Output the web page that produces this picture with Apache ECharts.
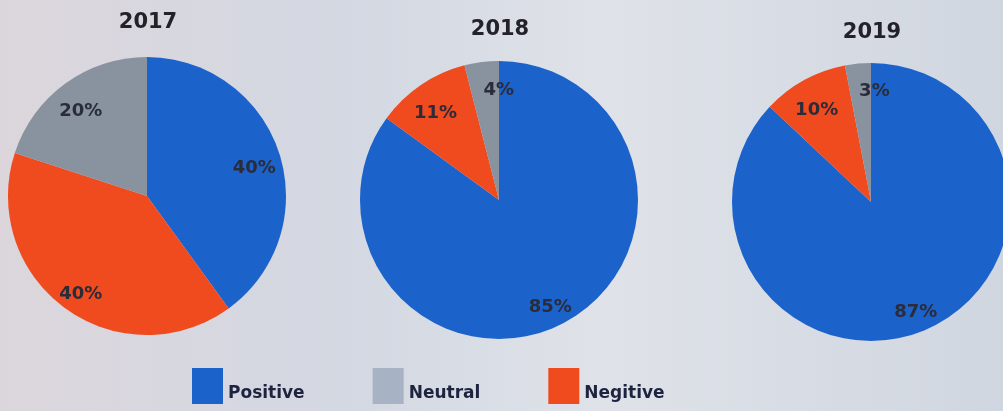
<!DOCTYPE html>
<html>
<head>
<meta charset="utf-8">
<title>Sentiment 2017-2019</title>
<script src="https://cdn.jsdelivr.net/npm/echarts@6/dist/echarts.min.js"></script>
<style>
  html, body { margin: 0; padding: 0; }
  #main { width: 1003px; height: 411px; }
</style>
</head>
<body>
<div id="main"></div>
<script>
// data
var years = ['2017', '2018', '2019']
var categories = ['Positive', 'Negitive', 'Neutral']   // clockwise from 12 o'clock
var legendOrder = ['Positive', 'Neutral', 'Negitive']
var positive = [40, 85, 87]
var negitive = [40, 11, 10]
var neutral = [20, 4, 3]

var colors = { Positive: '#1b63cb', Negitive: '#f04a1f', Neutral: '#89929f' }
var neutralLegend = '#a8b2c5'
var centers = [[147, 196], [499, 200], [871, 202]]
var radius = 139
var titleTops = [7, 14, 17]

var chart = echarts.init(document.getElementById('main'))

function yearData(i) {
    var vals = { Positive: positive[i], Negitive: negitive[i], Neutral: neutral[i] }
    return categories.map(function (c) {
        return { name: c, value: vals[c], itemStyle: { color: colors[c] } }
    })
}

var series = []
var titles = []
for (var i = 0; i < years.length; i++) {
    // the pie itself
    series.push({
        type: 'pie',
        center: centers[i],
        radius: [0, radius],
        startAngle: 90,
        clockwise: true,
        silent: true,
        label: { show: false },
        labelLine: { show: false },
        data: yearData(i)
    })
    titles.push({
        text: years[i],
        left: centers[i][0] - 4,
        top: titleTops[i],
        textAlign: 'center',
        textStyle: { fontFamily: 'DejaVu Sans', fontWeight: 'bold', fontSize: 21, color: '#222228' }
    })
}
// transparent rings so the percent labels sit out near the rim
for (var j = 0; j < years.length; j++) {
    series.push({
        type: 'pie',
        center: centers[j],
        radius: [radius * 0.58, radius],
        startAngle: 90,
        clockwise: true,
        silent: true,
        itemStyle: { color: 'rgba(0,0,0,0)' },
        label: {
            show: true,
            position: 'inside',
            formatter: '{c}%',
            fontFamily: 'DejaVu Sans',
            fontWeight: 'bold',
            fontSize: 18,
            color: '#2a2c3a'
        },
        // nudge labels a bit lower, tiny slices hang to the right of the sliver
        labelLayout: function (params) {
            var v = parseFloat(params.text)
            return v < 8 ? { dx: 14, dy: 2 } : { dy: 7 }
        },
        labelLine: { show: false },
        data: yearData(j).map(function (d) {
            return { name: d.name, value: d.value, itemStyle: { color: 'rgba(0,0,0,0)' } }
        })
    })
}

var option = {
    backgroundColor: {
        type: 'linear', x: 0, y: 0, x2: 1, y2: 0,
        colorStops: [
            { offset: 0, color: '#dcd6dc' },
            { offset: 0.35, color: '#d3d8e2' },
            { offset: 0.6, color: '#dfe2e8' },
            { offset: 1, color: '#d0d6e0' }
        ]
    },
    title: titles,
    legend: {
        data: legendOrder.map(function (n) {
            return n == 'Neutral' ? { name: n, itemStyle: { color: neutralLegend } } : { name: n }
        }),
        left: 187,
        top: 363,
        icon: 'rect',
        itemWidth: 31,
        itemHeight: 36,
        itemGap: 68,
        selectedMode: false,
        formatter: '{t|{name}}',
        textStyle: {
            rich: {
                t: { fontFamily: 'DejaVu Sans', fontWeight: 'bold', fontSize: 17, color: '#1e2440', padding: [15, 0, 0, 0] }
            }
        }
    },
    series: series
}
chart.setOption(option)
</script>
</body>
</html>
